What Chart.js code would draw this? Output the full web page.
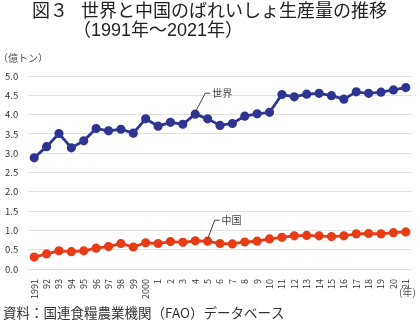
<!DOCTYPE html>
<html>
<head>
<meta charset="utf-8">
<script src="https://cdn.jsdelivr.net/npm/chart.js@4.4.0/dist/chart.umd.min.js"></script>
<style>
  html, body { margin: 0; padding: 0; background: #fff; }
  #wrap { width: 420px; height: 323px; position: relative; }
</style>
</head>
<body>
<div id="wrap"><canvas id="potatoChart" width="420" height="323"></canvas></div>
<script>
// --- DADOS ---
const years = ['1991', '92', '93', '94', '95', '96', '97', '98', '99', '2000',
    '1', '2', '3', '4', '5', '6', '7', '8', '9', '10',
    '11', '12', '13', '14', '15', '16', '17', '18', '19', '20', '21'];
const world = [2.88, 3.17, 3.51, 3.14, 3.32, 3.64, 3.58, 3.62, 3.52, 3.89,
    3.70, 3.80, 3.75, 4.01, 3.89, 3.72, 3.77, 3.96, 4.02, 4.06,
    4.52, 4.46, 4.53, 4.55, 4.49, 4.40, 4.59, 4.55, 4.58, 4.64, 4.70];
const china = [0.31, 0.39, 0.47, 0.45, 0.47, 0.54, 0.58, 0.66, 0.57, 0.68,
    0.66, 0.71, 0.69, 0.73, 0.72, 0.66, 0.65, 0.70, 0.72, 0.78,
    0.82, 0.86, 0.87, 0.86, 0.84, 0.86, 0.91, 0.92, 0.91, 0.94, 0.96];
const yTicks = [0, 0.5, 1, 1.5, 2, 2.5, 3, 3.5, 4, 4.5, 5];

const FONT = '"Noto Sans CJK JP", "Noto Sans", sans-serif';
const TITLE_FONT = '"Liberation Sans", "Noto Sans CJK JP", sans-serif';

// textos extras: título, unidade, rótulos e fonte
const extraText = {
    id: 'extraText',
    afterDraw(chart) {
        const ctx = chart.ctx;
        ctx.save();
        ctx.textBaseline = 'middle';
        ctx.textAlign = 'left';

        ctx.fillStyle = '#222';
        ctx.font = '18px ' + TITLE_FONT;
        ctx.fillText('図３', 32, 12);
        ctx.fillText('世界と中国のばれいしょ生産量の推移', 81, 12);
        ctx.fillText('（1991年～2021年）', 73, 31);

        ctx.fillStyle = '#555';
        ctx.font = '10px ' + FONT;
        ctx.fillText('（億トン）', -2, 58);
        ctx.fillText('(年)', 399, 292);

        // chamadas das séries
        const xs = chart.scales.x, ys = chart.scales.y;
        const callout = (idx, val, dx, dy, label) => {
            const px = xs.getPixelForValue(idx), py = ys.getPixelForValue(val);
            ctx.strokeStyle = '#444';
            ctx.lineWidth = 1;
            ctx.beginPath();
            ctx.moveTo(px, py - 2);
            ctx.lineTo(px + dx, py + dy);
            ctx.lineTo(px + dx + 5, py + dy);
            ctx.stroke();
            ctx.fillStyle = '#444';
            ctx.fillText(label, px + dx + 7, py + dy);
        };
        callout(13, world[13], 10, -21, '世界');
        callout(14, china[14], 7, -21, '中国');

        ctx.fillStyle = '#333';
        ctx.font = '13.5px ' + FONT;
        ctx.fillText('資料：国連食糧農業機関（FAO）データベース', 3, 313);
        ctx.restore();
    }
};

new Chart(document.getElementById('potatoChart'), {
    type: 'line',
    data: {
        labels: years,
        datasets: [{
            label: '世界',
            data: world,
            borderColor: '#2e3590',
            backgroundColor: '#2e3590',
            borderWidth: 2.8,
            pointRadius: 3.2,
            tension: 0
        }, {
            label: '中国',
            data: china,
            borderColor: '#e83c16',
            backgroundColor: '#e83c16',
            borderWidth: 2.8,
            pointRadius: 3.2,
            tension: 0
        }]
    },
    options: {
        responsive: false,
        animation: false,
        layout: { padding: { left: 5, right: 8, top: 76, bottom: 23 } },
        plugins: { legend: { display: false }, tooltip: { enabled: false } },
        scales: {
            x: {
                offset: true,
                grid: { display: false },
                border: { display: false },
                ticks: {
                    color: '#333', font: { size: 9, family: FONT },
                    minRotation: 90, maxRotation: 90, autoSkip: false, padding: 2
                },
                afterFit(scale) { scale.height = 31; }
            },
            y: {
                min: 0, max: 5,
                afterBuildTicks(scale) { scale.ticks = yTicks.map(v => ({ value: v })); },
                grid: { color: '#e2e2e2', drawTicks: false },
                border: { display: false },
                ticks: {
                    color: '#333', font: { size: 9.5, family: FONT }, crossAlign: 'far', padding: 8,
                    callback: v => v.toFixed(1)
                },
                afterFit(scale) { scale.width = 23; }
            }
        }
    },
    plugins: [extraText]
});
</script>
</body>
</html>
